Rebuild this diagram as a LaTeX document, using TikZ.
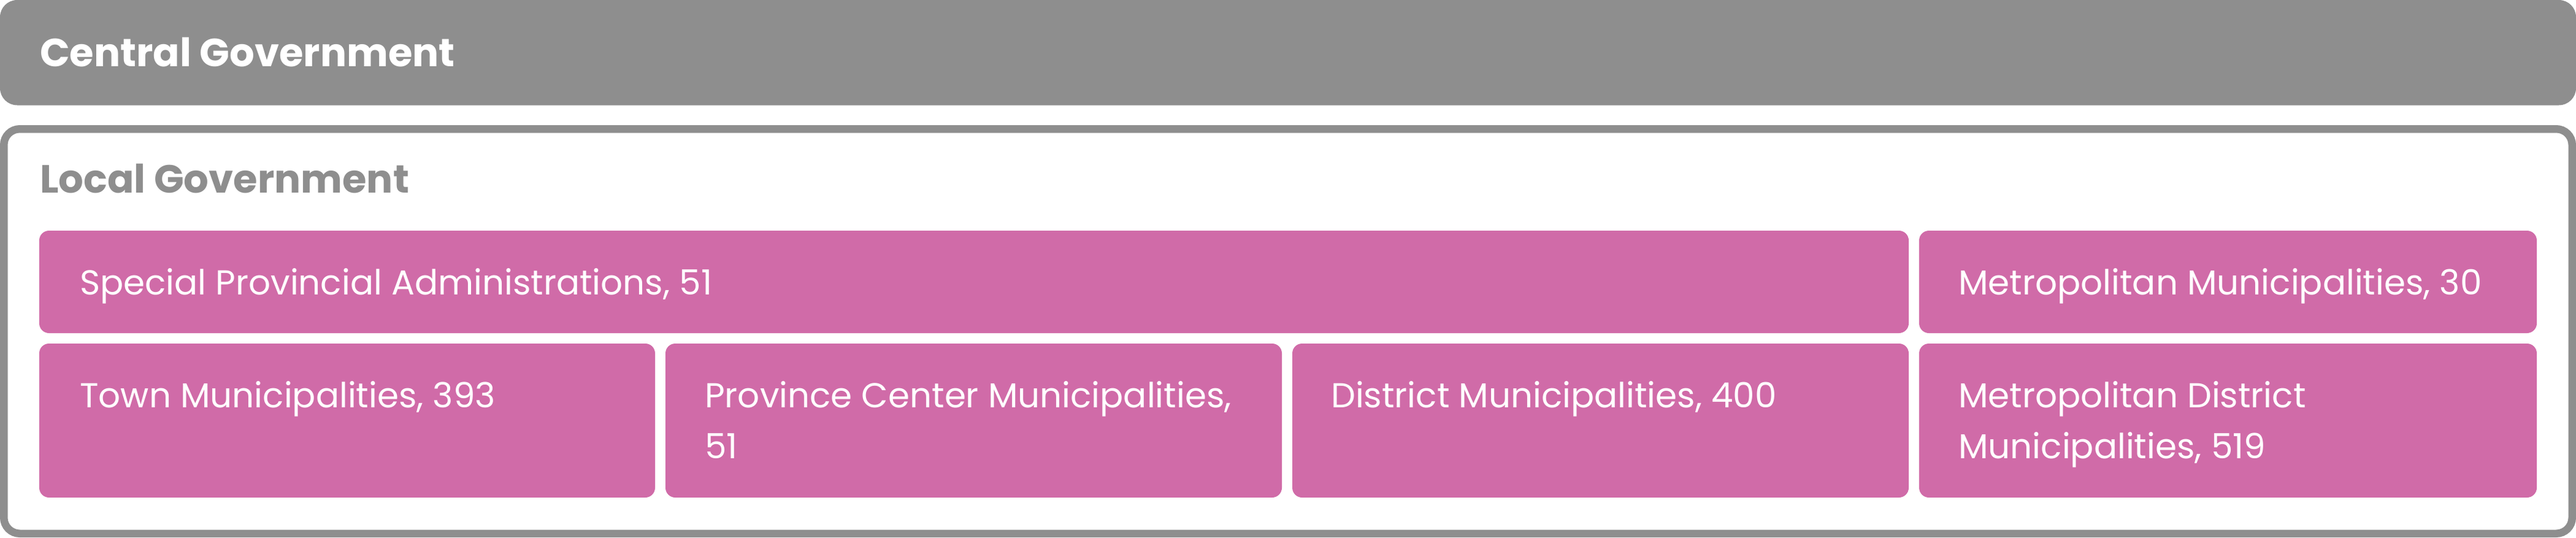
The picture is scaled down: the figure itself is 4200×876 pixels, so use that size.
\documentclass[tikz,border=0pt]{standalone}
\usepackage{fontspec}
\setmainfont{Poppins}
\definecolor{govgray}{HTML}{8E8E8E}
\definecolor{unitpink}{HTML}{D06BA8}
\tikzset{
  unit/.style={fill=unitpink, rounded corners=16},
  unittext/.style={anchor=base west, inner sep=0, text=white, align=left,
    font=\fontsize{56.4}{83}\selectfont},
  headtext/.style={anchor=base west, inner sep=0,
    font=\fontsize{64}{78}\selectfont\bfseries}
}
\begin{document}
\begin{tikzpicture}[x=1pt,y=-1pt]
\useasboundingbox (0,0) rectangle (4200,876);

% Central government bar
\fill[govgray, rounded corners=28] (0,0) rectangle (4200,171.5);
\node[headtext, text=white] (central) at (65,108) {Central Government};

% Local government frame
\draw[govgray, line width=12.5, rounded corners=26] (6.25,210.25) rectangle (4193.75,869.75);
\node[headtext, text=govgray] (local) at (65,314) {Local Government};

% Upper row
\fill[unit] (64,376) rectangle (3112,543);
\fill[unit] (3129,376) rectangle (4136,543);
\node[unittext] (special) at (130,480) {Special Provincial Administrations, 51};
\node[unittext] (metro) at (3193,480) {Metropolitan Municipalities, 30};

% Lower row (two-line labels sit on their last baseline)
\fill[unit] (64,560) rectangle (1068,811);
\fill[unit] (1085,560) rectangle (2090,811);
\fill[unit] (2107,560) rectangle (3112,811);
\fill[unit] (3129,560) rectangle (4136,811);
\node[unittext] (town) at (130,664) {Town Municipalities, 393};
\node[unittext] (provcenter) at (1149,747) {Province Center Municipalities,\\51};
\node[unittext] (district) at (2170,664) {District Municipalities, 400};
\node[unittext] (metrodistrict) at (3193,747) {Metropolitan District\\Municipalities, 519};

\end{tikzpicture}
\end{document}
